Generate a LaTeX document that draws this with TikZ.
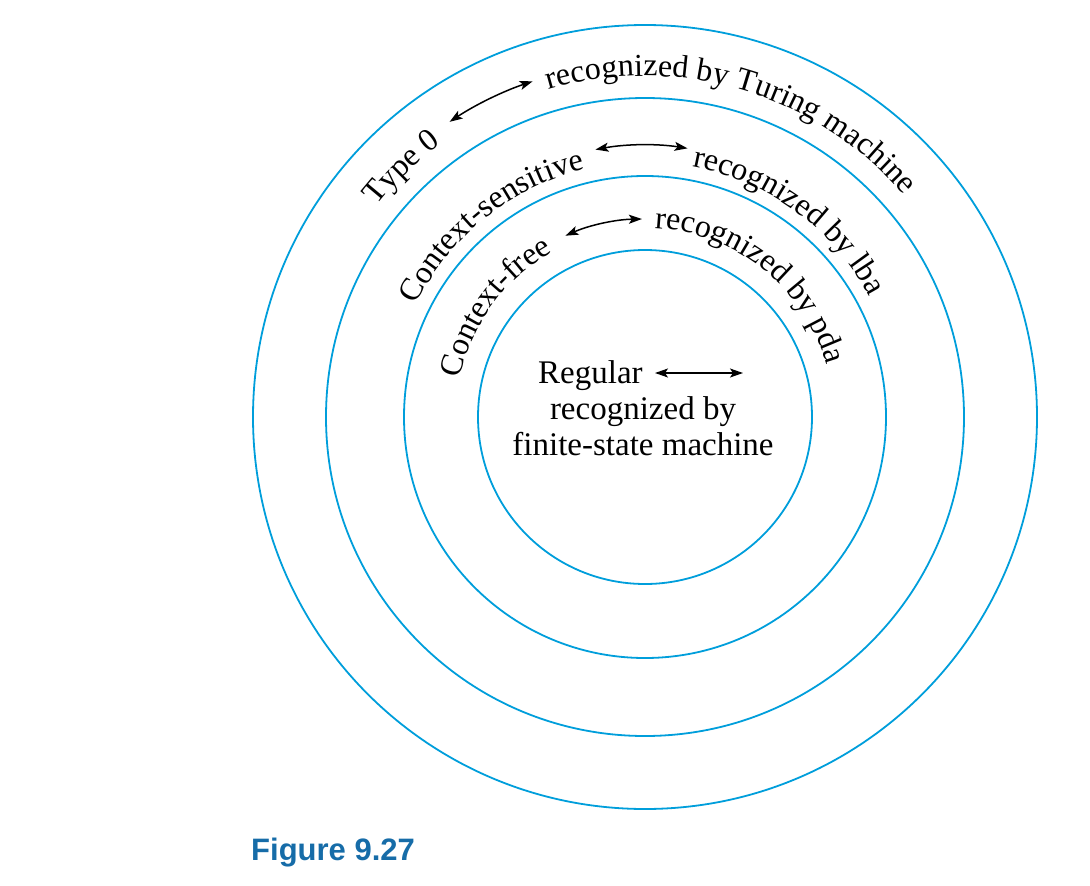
\documentclass[tikz,border=0pt]{standalone}
\usepackage{fontspec}
\setmainfont{Liberation Serif}
\newfontfamily\capfont{Liberation Sans}
\usetikzlibrary{decorations.text,arrows.meta,calc}
\definecolor{ringblue}{RGB}{0,158,219}
\definecolor{capblue}{RGB}{22,108,168}
\newcommand\lblfont{\fontsize{32}{38}\selectfont}
\newcommand\midfont{\fontsize{33}{38}\selectfont}
\tikzset{
  ring/.style={draw=ringblue, line width=1.8pt},
  dblarrow/.style={line width=1.5pt, {Stealth[length=13pt,width=9pt,inset=3pt]}-{Stealth[length=13pt,width=9pt,inset=3pt]}},
  arctext/.style={decorate, decoration={text along path, text align=center, text={|\lblfont|#1}}},
  flat/.style={font=\midfont, inner sep=0pt, anchor=base}
}
\begin{document}
\begin{tikzpicture}[x=1pt,y=1pt]
\useasboundingbox (0,0) rectangle (1090,-886);
\coordinate (C) at (645,-417);
% rings
\draw[ring] (C) circle[radius=392pt];
\draw[ring] (C) circle[radius=319pt];
\draw[ring] (C) circle[radius=241pt];
\draw[ring] (C) circle[radius=167pt];
% outer band
\path[arctext={Type 0}] ($(C)+(154.25:341pt)$) arc[start angle=154.25, end angle=114.25, radius=341pt];
\path[arctext={recognized by Turing machine}] ($(C)+(116.5:341pt)$) arc[start angle=116.5, end angle=30.5, radius=341pt];
\coordinate (t0a) at ($(C)+(123.5:354pt)$);
\draw[dblarrow] (t0a) arc[start angle=123.5, end angle=108.5, radius=354pt] coordinate (t0b);
% second band
\path[arctext={Context-sensitive}] ($(C)+(163.75:255pt)$) arc[start angle=163.75, end angle=93.75, radius=255pt];
\path[arctext={recognized by lba}] ($(C)+(88.8:255pt)$) arc[start angle=88.8, end angle=18.8, radius=255pt];
\coordinate (csa) at ($(C)+(100.5:272pt)$);
\draw[dblarrow] (csa) arc[start angle=100.5, end angle=81, radius=272pt] coordinate (csb);
% third band
\path[arctext={Context-free}] ($(C)+(178.7:189pt)$) arc[start angle=178.7, end angle=108.7, radius=189pt];
\path[arctext={recognized by pda}] ($(C)+(96.5:189pt)$) arc[start angle=96.5, end angle=6.5, radius=189pt];
\coordinate (cfa) at ($(C)+(113.7:198pt)$);
\draw[dblarrow] (cfa) arc[start angle=113.7, end angle=90.9, radius=198pt] coordinate (cfb);
% centre
\node[flat, anchor=base west] (reg) at (538,-383) {Regular};
\node[flat] (rec) at (643,-419) {recognized by};
\node[flat] (fsm) at (643,-455) {finite-state machine};
\coordinate (ra) at (655,-373);
\coordinate (rb) at (743,-373);
\draw[dblarrow] (ra) -- (rb);
% caption
\node[anchor=base west, inner sep=0pt, font=\capfont\bfseries\fontsize{31}{36}\selectfont, text=capblue] (cap) at (251,-860) {Figure 9.27};
\end{tikzpicture}
\end{document}
